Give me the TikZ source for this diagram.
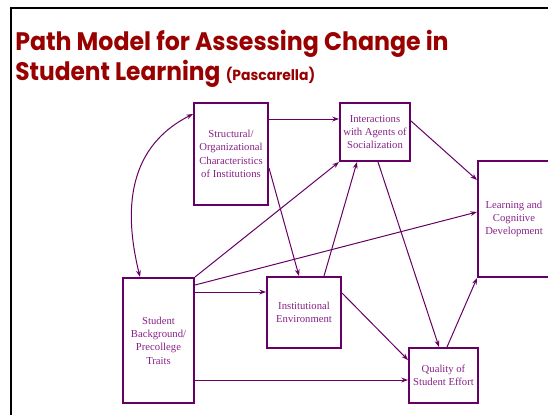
\documentclass[tikz,border=0pt]{standalone}
\usepackage{fontspec}
\usepackage{graphicx}
\setmainfont{Liberation Serif}
\newfontfamily\titlefont{Poppins}
\usetikzlibrary{arrows.meta,calc}
\definecolor{boxc}{HTML}{660066}
\definecolor{txtc}{HTML}{882288}
\definecolor{titlec}{HTML}{990000}
\begin{document}
\begin{tikzpicture}[x=0.75pt,y=-0.75pt,
  box/.style={draw=boxc, line width=1.5pt, inner sep=0pt, align=center,
    text=txtc, font=\fontsize{8}{10}\selectfont},
  link/.style={draw=boxc, line width=0.75pt, -{Stealth[length=5pt,width=3.6pt]}},
  dlink/.style={draw=boxc, line width=0.75pt, {Stealth[length=5pt,width=3.6pt]}-{Stealth[length=5pt,width=3.6pt]}},
  ttl/.style={anchor=base west, inner sep=0pt, text=titlec}]
\useasboundingbox (0,0) rectangle (548,414);
\fill[white] (0,0) rectangle (548,414);
\draw[black, line width=1.5pt] (10.5,7.5) rectangle (700,600);
\node[ttl, font=\titlefont\bfseries\fontsize{19}{22}\selectfont] (t1) at (15,50) {\scalebox{0.935}[1]{Path Model for Assessing Change in}};
\node[ttl, font=\titlefont\bfseries\fontsize{19}{22}\selectfont] (t2) at (15,80) {\scalebox{0.92}[1]{Student Learning} \scalebox{0.95}[1]{\fontsize{11}{13}\selectfont(Pascarella)}};

\node[box, minimum width=55.5pt, minimum height=76.5pt] (struct) at (231,154) {Structural/\\Organizational\\Characteristics\\of Institutions};
\node[box, minimum width=52.5pt, minimum height=43.5pt] (inter) at (375,132) {Interactions\\with Agents of\\Socialization};
\node[box, minimum width=54pt, minimum height=87pt] (learn) at (514,219) {Learning and\\Cognitive\\Development};
\node[box, minimum width=53.25pt, minimum height=93.75pt] (student) at (158.5,340.5) {Student\\Background/\\Precollege\\Traits};
\node[box, minimum width=55.5pt, minimum height=53.25pt] (inst) at (304,312.5) {Institutional\\Environment};
\node[box, minimum width=51.75pt, minimum height=41.25pt] (qual) at (443.5,375.5) {Quality of\\Student Effort};

\draw[link] ($(struct.north east)+(0,17)$) -- ($(inter.north west)+(0,17)$);
\draw[link] ($(struct.north east)+(0,66)$) -- ($(inst.north west)+(33,0)$);
\draw[link] (student.north east) -- (inter.south west);
\draw[link] ($(student.north east)+(0,8)$) -- ($(learn.north west)+(0,52)$);
\draw[link] ($(student.north east)+(0,15)$) -- ($(inst.north west)+(0,16)$);
\draw[link] ($(student.north east)+(0,103)$) -- ($(qual.north west)+(0,33)$);
\draw[link] ($(inst.north west)+(58,0)$) -- ($(inter.south west)+(18,0)$);
\draw[link] ($(inter.south west)+(39,0)$) -- ($(qual.north west)+(31,0)$);
\draw[link] ($(inter.north east)+(0,19)$) -- ($(learn.north west)+(0,20)$);
\draw[link] ($(inst.north east)+(0,17)$) -- ($(qual.north west)+(0,13)$);
\draw[link] ($(qual.north west)+(39,0)$) -- (learn.south west);
\draw[dlink] ($(student.north west)+(18,0)$) .. controls (126,220) and (122,150) .. ($(struct.north west)+(0,12)$);
\end{tikzpicture}
\end{document}
